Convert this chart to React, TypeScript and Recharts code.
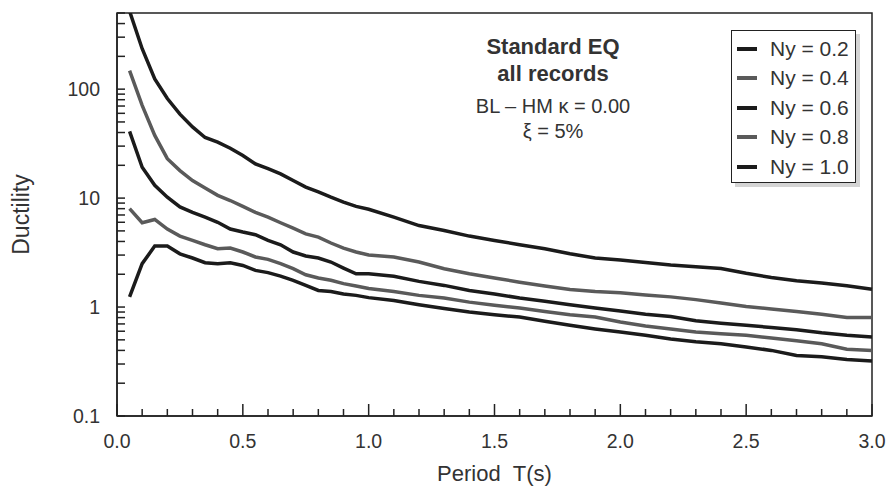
import React from 'react';
import { LineChart, Line, XAxis, YAxis, ReferenceArea } from 'recharts';

const periods = [0.05, 0.1, 0.15, 0.2, 0.25, 0.3, 0.35, 0.4, 0.45, 0.5, 0.55, 0.6, 0.65, 0.7, 0.75, 0.8, 0.85, 0.9, 0.95, 1.0, 1.1, 1.2, 1.3, 1.4, 1.5, 1.6, 1.7, 1.8, 1.9, 2.0, 2.1, 2.2, 2.3, 2.4, 2.5, 2.6, 2.7, 2.8, 2.9, 3.0];

const ny02 = [520, 235, 124, 82, 59, 45, 36, 32.6, 28.7, 24.6, 20.6, 18.6, 16.7, 14.5, 12.6, 11.4, 10.2, 9.2, 8.4, 7.9, 6.7, 5.6, 5.05, 4.48, 4.09, 3.73, 3.43, 3.08, 2.82, 2.7, 2.57, 2.43, 2.34, 2.26, 2.04, 1.87, 1.74, 1.66, 1.57, 1.46];
const ny04 = [148, 71, 37.6, 23, 17.9, 14.5, 12.4, 10.6, 9.5, 8.4, 7.4, 6.7, 5.94, 5.3, 4.7, 4.39, 3.87, 3.48, 3.2, 3.0, 2.88, 2.59, 2.25, 2.02, 1.85, 1.69, 1.56, 1.45, 1.39, 1.35, 1.29, 1.24, 1.17, 1.09, 1.01, 0.96, 0.91, 0.86, 0.8, 0.8];
const ny06 = [41, 19.2, 13.1, 10.2, 8.3, 7.4, 6.7, 6.0, 5.2, 4.88, 4.61, 4.09, 3.73, 3.2, 2.94, 2.82, 2.59, 2.28, 2.02, 2.02, 1.92, 1.72, 1.58, 1.42, 1.32, 1.21, 1.13, 1.05, 0.98, 0.92, 0.86, 0.82, 0.75, 0.71, 0.68, 0.65, 0.62, 0.58, 0.55, 0.53];
const ny08 = [8.0, 5.94, 6.37, 5.2, 4.48, 4.09, 3.73, 3.43, 3.48, 3.2, 2.88, 2.74, 2.5, 2.25, 1.98, 1.85, 1.76, 1.64, 1.56, 1.48, 1.39, 1.28, 1.21, 1.11, 1.04, 0.98, 0.91, 0.85, 0.81, 0.73, 0.67, 0.63, 0.59, 0.57, 0.55, 0.52, 0.49, 0.46, 0.41, 0.4];
const ny10 = [1.24, 2.5, 3.63, 3.63, 3.08, 2.82, 2.55, 2.5, 2.55, 2.41, 2.17, 2.07, 1.92, 1.76, 1.58, 1.42, 1.39, 1.32, 1.28, 1.22, 1.15, 1.05, 0.97, 0.9, 0.85, 0.81, 0.74, 0.68, 0.63, 0.59, 0.55, 0.51, 0.48, 0.46, 0.43, 0.4, 0.36, 0.35, 0.33, 0.32];

const seriesKeys = ['ny02', 'ny04', 'ny06', 'ny08', 'ny10'];
const seriesNames = ['Ny = 0.2', 'Ny = 0.4', 'Ny = 0.6', 'Ny = 0.8', 'Ny = 1.0'];
const seriesColors = ['#1b1b1b', '#5a5a5a', '#1b1b1b', '#5a5a5a', '#1b1b1b'];
const seriesValues = [ny02, ny04, ny06, ny08, ny10];

const xTicks = [0, 0.1, 0.2, 0.3, 0.4, 0.5, 0.6, 0.7, 0.8, 0.9, 1.0, 1.1, 1.2, 1.3, 1.4, 1.5, 1.6, 1.7, 1.8, 1.9, 2.0, 2.1, 2.2, 2.3, 2.4, 2.5, 2.6, 2.7, 2.8, 2.9, 3.0];
const xLabelTicks = [0, 0.5, 1.0, 1.5, 2.0, 2.5, 3.0];
const yTicks = [0.1, 0.2, 0.3, 0.4, 0.5, 0.6, 0.7, 0.8, 0.9, 1, 2, 3, 4, 5, 6, 7, 8, 9, 10, 20, 30, 40, 50, 60, 70, 80, 90, 100, 200, 300, 400, 500];
const yLabelTicks = [0.1, 1, 10, 100];
const yDomain = [0.1, 500];
const xDomain = [0, 3];

const titleLines = ['Standard EQ', 'all records'];
const noteLines = ['BL \u2013 HM \u03BA = 0.00', '\u03BE = 5%'];
const xTitle = 'Period\u00A0\u00A0T(s)';
const yTitle = 'Ductility';

const data = periods.map((t, i) => {
  const row: Record<string, number> = { t };
  seriesKeys.forEach((k, j) => {
    row[k] = seriesValues[j][i];
  });
  return row;
});

const FONT = '"Liberation Sans", Arial, sans-serif';
const AXIS = '#222';
const TEXT = '#333';

const XTick = (props: any) => {
  const { x, y, payload } = props;
  const major = xLabelTicks.includes(payload.value);
  return (
    <g>
      <line x1={x} x2={x} y1={y} y2={y - (major ? 12 : 7)} stroke={AXIS} strokeWidth={1.5} />
      {major && (
        <text x={x} y={y + 25} textAnchor="middle" dominantBaseline="central" fontSize={19.5} fill={TEXT} fontFamily={FONT}>
          {Number(payload.value).toFixed(1)}
        </text>
      )}
    </g>
  );
};

const YTick = (props: any) => {
  const { x, y, payload } = props;
  const label = yLabelTicks.includes(payload.value);
  return (
    <g>
      <line x1={x} x2={x + 8} y1={y} y2={y} stroke={AXIS} strokeWidth={1.5} />
      {label && (
        <text x={x - 17} y={y} textAnchor="end" dominantBaseline="central" fontSize={19.5} fill={TEXT} fontFamily={FONT}>
          {String(payload.value)}
        </text>
      )}
    </g>
  );
};

const YLabel = (props: any) => {
  const vb = props.viewBox || { x: 0, y: 0, width: 0, height: 0 };
  const cx = vb.x + 21;
  const cy = vb.y + vb.height / 2;
  return (
    <text x={cx} y={cy} transform={`rotate(-90 ${cx} ${cy})`} textAnchor="middle" dominantBaseline="central" fontSize={23} fill={TEXT} fontFamily={FONT}>
      {yTitle}
    </text>
  );
};

const XLabel = (props: any) => {
  const vb = props.viewBox || { x: 0, y: 0, width: 0, height: 0 };
  return (
    <text x={vb.x + vb.width / 2} y={vb.y + 57} textAnchor="middle" dominantBaseline="central" fontSize={22} fill={TEXT} fontFamily={FONT}>
      {xTitle}
    </text>
  );
};

export default function App() {
  return (
    <div style={{ position: 'absolute', left: 0, top: 0, width: 888, height: 487, background: '#fff', fontFamily: FONT }}>
      <LineChart width={888} height={487} data={data} margin={{ top: 13, right: 16, bottom: 0, left: 0 }} style={{ fontFamily: FONT }}>
        <XAxis
          dataKey="t"
          type="number"
          domain={xDomain}
          ticks={xTicks}
          interval={0}
          height={71}
          tickLine={false}
          tickSize={0}
          tickMargin={0}
          tick={<XTick />}
          axisLine={{ stroke: AXIS, strokeWidth: 1.5 }}
          label={<XLabel />}
        />
        <YAxis
          type="number"
          scale="log"
          domain={yDomain}
          allowDataOverflow
          ticks={yTicks}
          interval={0}
          width={117}
          tickLine={false}
          tickSize={0}
          tickMargin={0}
          tick={<YTick />}
          axisLine={{ stroke: AXIS, strokeWidth: 1.5 }}
          label={<YLabel />}
        />
        <ReferenceArea x1={xDomain[0]} x2={xDomain[1]} y1={yDomain[0]} y2={yDomain[1]} fill="none" fillOpacity={0} stroke={AXIS} strokeWidth={1.5} />
        {seriesKeys.map((k, i) => (
          <Line
            key={k}
            dataKey={k}
            name={seriesNames[i]}
            type="linear"
            stroke={seriesColors[i]}
            strokeWidth={3.5}
            dot={false}
            activeDot={false}
            isAnimationActive={false}
          />
        ))}
      </LineChart>

      <div style={{ position: 'absolute', left: 453, top: 33, width: 200, textAlign: 'center', color: TEXT }}>
        {titleLines.map((t) => (
          <div key={t} style={{ fontSize: 22, fontWeight: 'bold', lineHeight: '27px' }}>{t}</div>
        ))}
        <div style={{ height: 7 }} />
        {noteLines.map((t) => (
          <div key={t} style={{ fontSize: 20, lineHeight: '25px' }}>{t}</div>
        ))}
      </div>

      <div
        style={{
          position: 'absolute',
          left: 731,
          top: 30,
          width: 125,
          height: 153,
          boxSizing: 'border-box',
          border: '1.5px solid #222',
          background: '#fff',
          boxShadow: '4px 4px 0 #d4d4d4',
          paddingTop: 3,
        }}
      >
        {seriesNames.map((n, i) => (
          <div key={n} style={{ position: 'relative', height: 29.4 }}>
            <div style={{ position: 'absolute', left: 5, top: 13, width: 20, height: 4, background: seriesColors[i] }} />
            <div style={{ position: 'absolute', left: 38, top: 0, lineHeight: '29.4px', fontSize: 21, color: TEXT, whiteSpace: 'nowrap' }}>{n}</div>
          </div>
        ))}
      </div>
    </div>
  );
}
